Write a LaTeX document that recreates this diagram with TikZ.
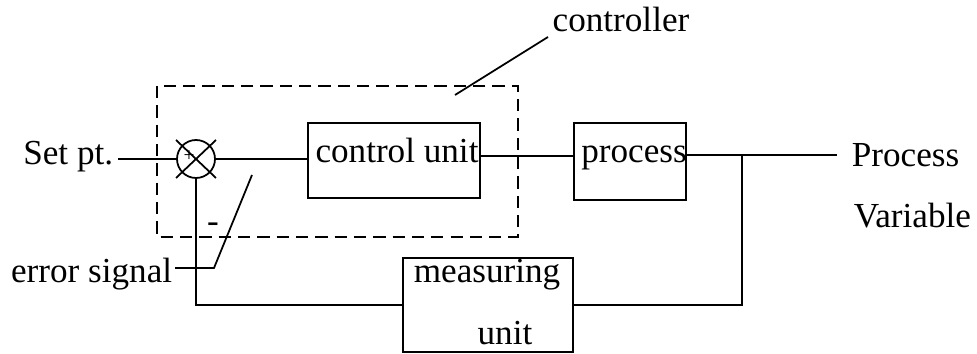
\documentclass[tikz,border=0pt]{standalone}
\usepackage{fontspec}
\setmainfont{Liberation Serif}
\usetikzlibrary{calc}

\begin{document}
\begin{tikzpicture}[x=0.02cm, y=-0.02cm, line width=1pt,
  font=\fontsize{20}{24}\selectfont,
  block/.style={draw, inner sep=0pt},
  txt/.style={inner sep=0pt}]
\useasboundingbox (0,0) rectangle (977,354);
% blocks
\node[circle, draw, minimum size=0.76cm, inner sep=0pt] (sum) at (196,159) {};
\node[block, minimum width=3.44cm, minimum height=1.5cm] (ctrl) at (394,160.5) {};
\node[block, minimum width=2.24cm, minimum height=1.54cm] (proc) at (630,161.5) {};
\node[block, minimum width=3.4cm, minimum height=1.88cm] (meas) at (488,305) {};
\node[txt, anchor=base] (ctrltxt) at (397,163) {control unit};
\node[txt, anchor=base] (proctxt) at (634,163) {process};
\node[txt, anchor=base] (measa) at (487,283) {measuring};
\node[txt, anchor=base] (measb) at (505,345) {unit};
% labels
\node[txt, anchor=base east] (setpt) at (114,165) {Set pt.};
\node[txt, anchor=base west] (pv) at (851,167) {Process};
\node[txt, anchor=base west] (var) at (853,228) {Variable};
\node[txt, anchor=base] (ctrllab) at (621,32) {controller};
\node[txt, anchor=base east] (err) at (173,283) {error signal};
\node[txt, font=\fontsize{11}{13}\selectfont] (plus) at (189,156) {+};
\node[txt] (minus) at (213,228) {-};
% cross in the summing point
\draw ($(sum)+(-20,-19)$) -- ($(sum)+(20,19)$);
\draw ($(sum)+(20,-19)$) -- ($(sum)+(-20,19)$);
% signal lines
\coordinate (mid) at (527,156);
\coordinate (branch) at (742,155);
\coordinate (out) at (837,155);
\draw (118,159) -- (sum.west);
\draw (sum.east) -- (sum.east -| ctrl.west);
\draw (ctrl.east |- mid) -- (proc.west |- mid);
\draw (proc.east |- branch) -- (out);
\draw (branch) |- (meas.east);
\draw (meas.west) -| (sum.south);
% controller
\draw[dash pattern=on 7pt off 4pt] (157,86) rectangle (518,237);
\coordinate (ctrltip) at (455,95);
\draw (548,37) -- (ctrltip);
% error signal leader
\coordinate (errtip) at (252,175);
\draw (175,268) -- (214,268) -- (errtip);
\end{tikzpicture}
\end{document}
